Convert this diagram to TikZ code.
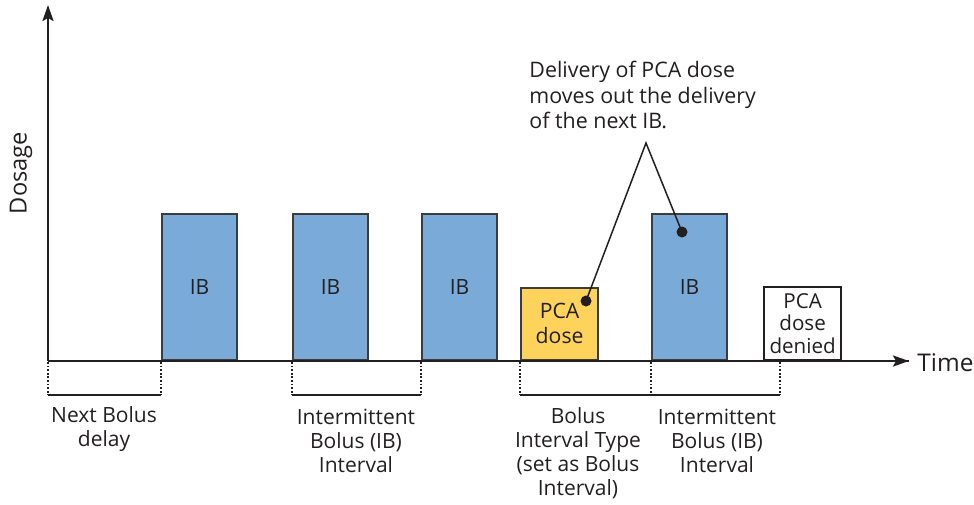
\documentclass[tikz,border=0pt]{standalone}
\usepackage{fontspec}
\setmainfont{Open Sans}
\usetikzlibrary{arrows.meta}
\definecolor{ink}{HTML}{231F20}
\definecolor{boxedge}{HTML}{3C3C3C}
\definecolor{ibblue}{HTML}{7AAAD8}
\definecolor{pcayellow}{HTML}{FDD35C}
\tikzset{
  axis/.style={draw=ink, line width=1.2pt},
  dosebox/.style={draw=boxedge, line width=1.1pt, anchor=south west, inner sep=0pt,
     text=ink, align=center, font=\fontsize{10.5}{10.5}\selectfont},
  ibbox/.style={dosebox, fill=ibblue, minimum width=37.5pt, minimum height=73pt},
  pcabox/.style={dosebox, fill=pcayellow, minimum width=38.5pt, minimum height=36pt,
     font=\fontsize{10.6}{12.5}\selectfont},
  deniedbox/.style={dosebox, draw=ink, fill=white, minimum width=38.5pt, minimum height=36.5pt,
     font=\fontsize{10.3}{11.3}\selectfont},
  tick/.style={draw=ink, line width=0.9pt, dash pattern=on 0.9pt off 0.9pt},
  bracket/.style={draw=ink, line width=0.9pt},
  lbl/.style={text=ink, align=center, inner sep=0pt, font=\fontsize{10.5}{12}\selectfont},
  callout/.style={draw=ink, line width=0.75pt},
  calldot/.style={circle, fill=ink, inner sep=0pt, minimum size=5.5pt},
}
\begin{document}
\begin{tikzpicture}[x=0.5pt, y=-0.5pt]
\useasboundingbox (0,0) rectangle (974,504);

% axes
\coordinate (origin) at (48,361);
\coordinate (ytip) at (48,5);
\coordinate (xtip) at (909,361);
\draw[axis, -{Stealth[length=8pt, width=5.5pt, inset=1.5pt]}] (origin) -- (ytip);
\draw[axis, -{Stealth[length=8pt, width=5.5pt, inset=1.5pt]}] (origin) -- (xtip);
\node[text=ink, anchor=west, inner sep=0pt, font=\fontsize{12.2}{12.2}\selectfont] (time) at (917,363) {Time};
\node[text=ink, rotate=90, inner sep=0pt, font=\fontsize{11.8}{11.8}\selectfont] (dosage) at (21,173) {Dosage};

% boxes
\node[ibbox] (ib1) at (161,361) {IB};
\node[ibbox] (ib2) at (292,361) {IB};
\node[ibbox] (ib3) at (421,361) {IB};
\node[pcabox] (pca) at (520,361) {PCA\\dose};
\node[ibbox] (ib4) at (651,361) {IB};
\node[deniedbox] (denied) at (763,361) {PCA\\dose\\denied};
\draw[axis] (origin) -- (xtip);

% interval ticks
\foreach \n/\x in {t0/48, t1/161, t2/292, t3/421, t4/520, t5/651, t6/780}{
  \coordinate (\n a) at (\x,362);
  \coordinate (\n b) at (\x,395);
  \draw[tick] (\n a) -- (\n b);
}
\draw[bracket] (t0b) -- (t1b);
\draw[bracket] (t2b) -- (t3b);
\draw[bracket] (t4b) -- (t6b);

% interval labels
\node[lbl] (l1) at (104,429) {Next Bolus\\delay};
\node[lbl] (l2) at (356,441) {Intermittent\\Bolus (IB)\\Interval};
\node[lbl] (l3) at (578,453) {Bolus\\Interval Type\\(set as Bolus\\Interval)};
\node[lbl] (l4) at (717,441) {Intermittent\\Bolus (IB)\\Interval};

% callout
\node[lbl, align=left, anchor=west, font=\fontsize{10.7}{12.9}\selectfont] (note) at (529,95)
  {Delivery of PCA dose\\moves out the delivery\\of the next IB.};
\coordinate (apex) at (646,143);
\node[calldot] (d1) at (586,301) {};
\node[calldot] (d2) at (682,232) {};
\draw[callout] (d1.center) -- (apex) -- (d2.center);
\end{tikzpicture}
\end{document}
